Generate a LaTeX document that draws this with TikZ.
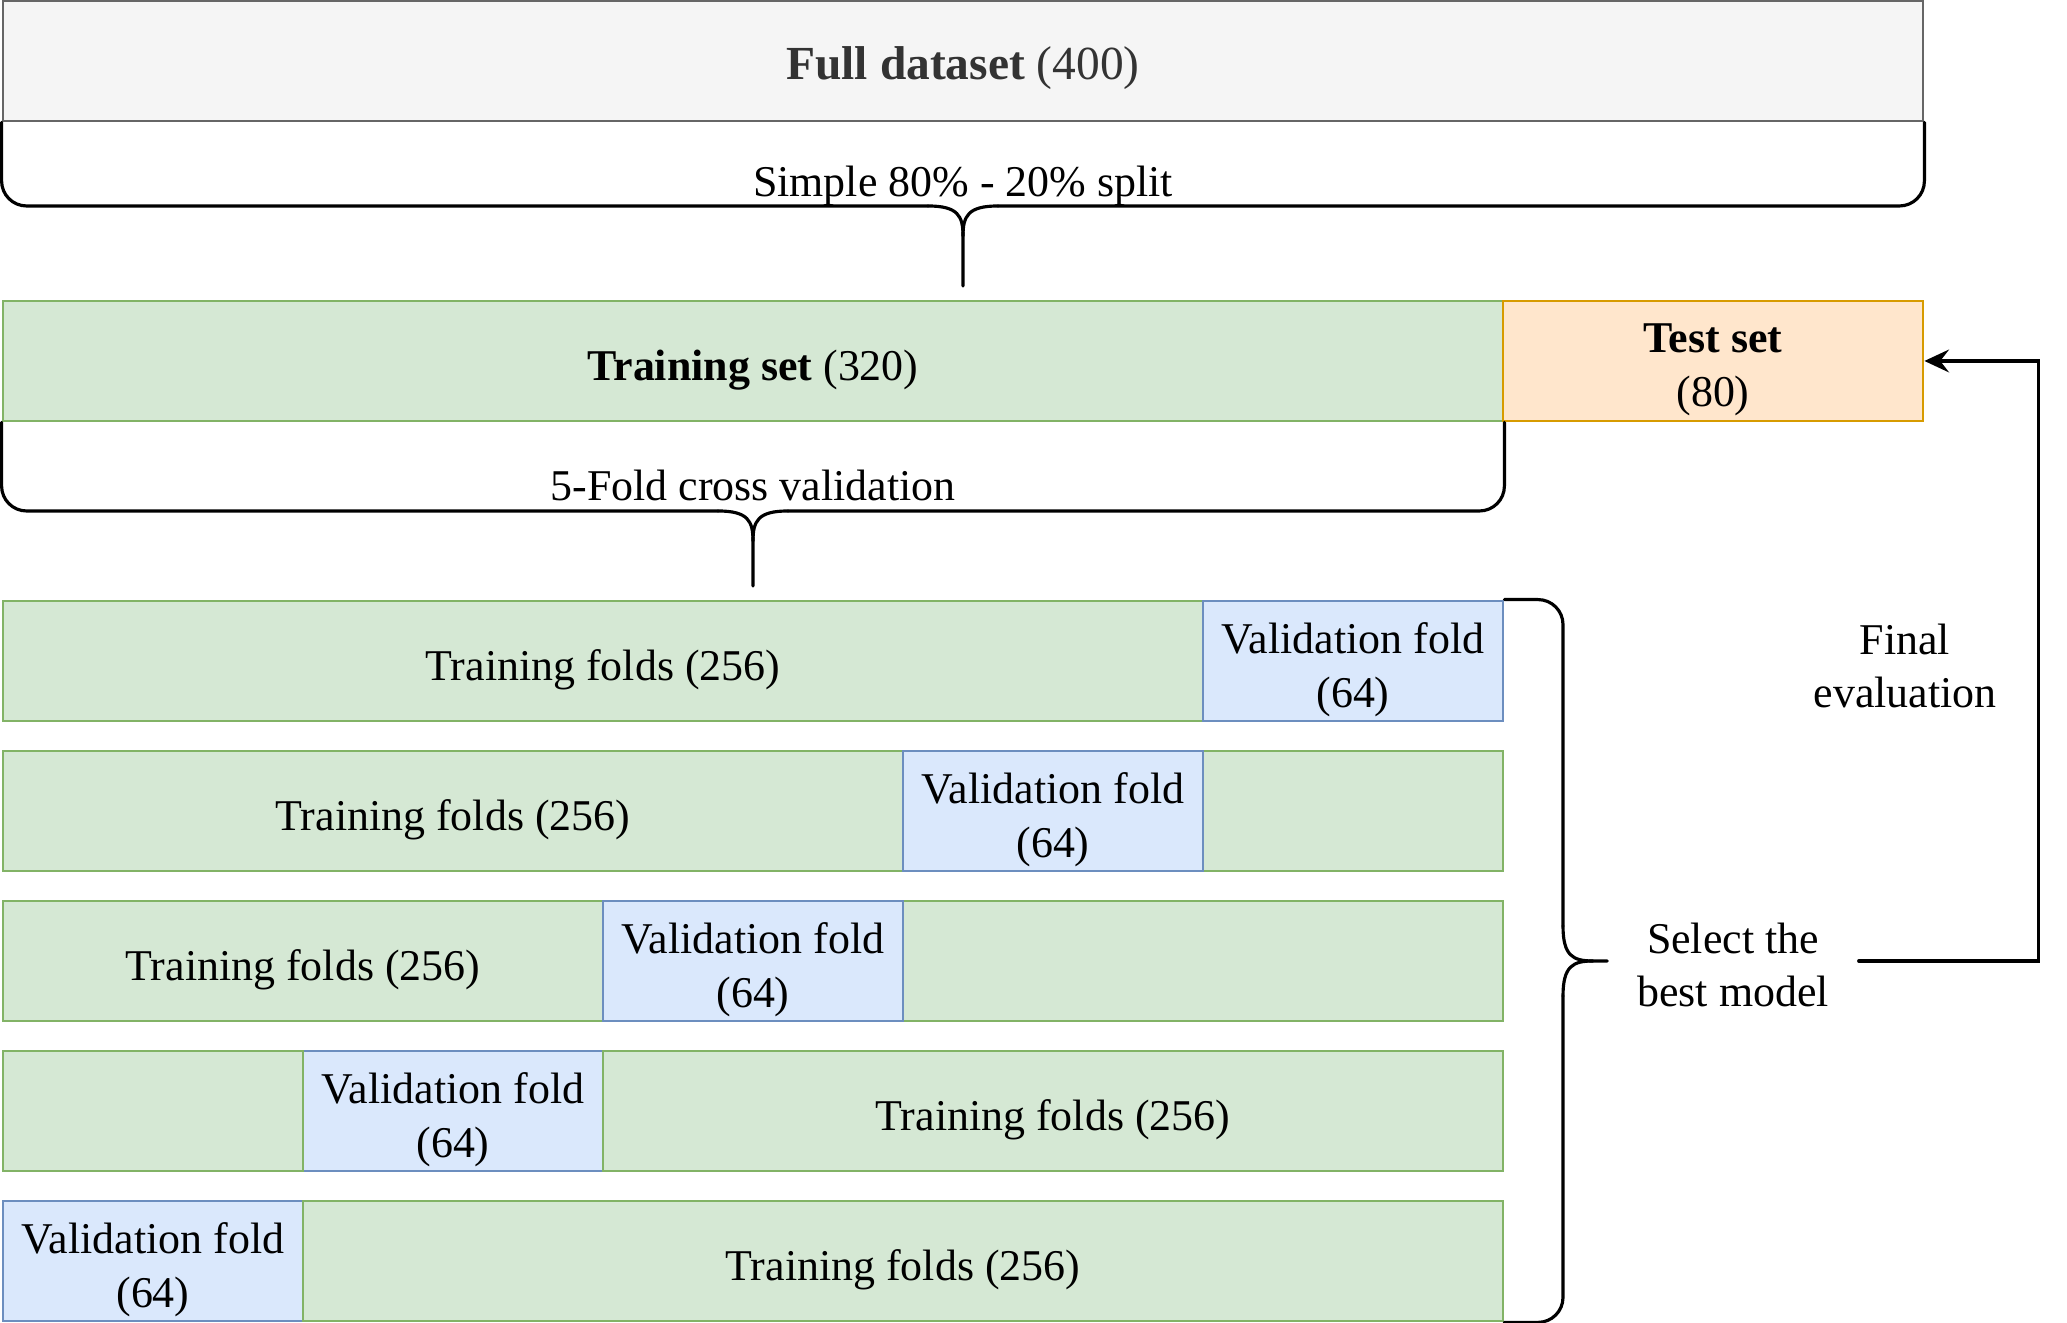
\documentclass[tikz,border=0pt]{standalone}
\usepackage{fontspec}
\setmainfont{Liberation Serif}
\usetikzlibrary{arrows.meta}

\definecolor{fullfill}{HTML}{F5F5F5}
\definecolor{fullline}{HTML}{666666}
\definecolor{fulltext}{HTML}{333333}
\definecolor{trainfill}{HTML}{D5E8D4}
\definecolor{trainline}{HTML}{82B366}
\definecolor{testfill}{HTML}{FFE6CC}
\definecolor{testline}{HTML}{D79B00}
\definecolor{valfill}{HTML}{DAE8FC}
\definecolor{valline}{HTML}{6C8EBF}

\begin{document}
\begin{tikzpicture}[>={Stealth[length=7pt,width=6.5pt,inset=2.5pt]},
    font=\fontsize{12.5}{15.3}\selectfont,
    every node/.style={align=center, inner sep=0pt},
    setbox/.style={rectangle, draw, line width=0.8pt, minimum height=1.2cm},
    trainbox/.style={setbox, draw=trainline, fill=trainfill},
    valbox/.style={setbox, draw=valline, fill=valfill, minimum width=3cm},
    bracket/.style={line width=0.9pt, line cap=round}]

    \useasboundingbox (-0.03,-0.02) rectangle (20.64,13.21);

    \node[setbox,
          draw = fullline,
          fill = fullfill,
          minimum width = 19.2cm
          ] (full) at (9.6,12.6) {};
    \node[text = fulltext,
          font = \fontsize{13.5}{16}\selectfont
          ] (fulllbl) at ([yshift=-0.07cm]full.center) {\textbf{Full dataset} (400)};

    \node[trainbox,
          minimum width = 15cm
          ] (train) at (7.5,9.6) {};
    \node[] (trainlbl) at ([yshift=-0.09cm]train.center) {\textbf{Training set} (320)};

    \node[setbox,
          draw = testline,
          fill = testfill,
          minimum width = 4.2cm
          ] (test) at (17.1,9.6) {};
    \node[] (testlbl) at ([yshift=-0.09cm]test.center) {\textbf{Test set}\\(80)};

    % fold 1
    \node[trainbox, minimum width = 12cm] (f1t) at (6,6.6) {};
    \node[valbox] (f1v) at (13.5,6.6) {};
    \node[] (f1tlbl) at ([yshift=-0.09cm]f1t.center) {Training folds (256)};
    \node[] (f1vlbl) at ([yshift=-0.09cm]f1v.center) {Validation fold\\(64)};

    % fold 2
    \node[trainbox, minimum width = 9cm] (f2t) at (4.5,5.1) {};
    \node[trainbox, minimum width = 3cm] (f2r) at (13.5,5.1) {};
    \node[valbox] (f2v) at (10.5,5.1) {};
    \node[] (f2tlbl) at ([yshift=-0.09cm]f2t.center) {Training folds (256)};
    \node[] (f2vlbl) at ([yshift=-0.09cm]f2v.center) {Validation fold\\(64)};

    % fold 3
    \node[trainbox, minimum width = 6cm] (f3t) at (3,3.6) {};
    \node[trainbox, minimum width = 6cm] (f3r) at (12,3.6) {};
    \node[valbox] (f3v) at (7.5,3.6) {};
    \node[] (f3tlbl) at ([yshift=-0.09cm]f3t.center) {Training folds (256)};
    \node[] (f3vlbl) at ([yshift=-0.09cm]f3v.center) {Validation fold\\(64)};

    % fold 4
    \node[valbox] (f4v) at (4.5,2.1) {};
    \node[trainbox, minimum width = 3cm] (f4l) at (1.5,2.1) {};
    \node[trainbox, minimum width = 9cm] (f4t) at (10.5,2.1) {};
    \node[] (f4tlbl) at ([yshift=-0.09cm]f4t.center) {Training folds (256)};
    \node[] (f4vlbl) at ([yshift=-0.09cm]f4v.center) {Validation fold\\(64)};

    % fold 5
    \node[valbox] (f5v) at (1.5,0.6) {};
    \node[trainbox, minimum width = 12cm] (f5t) at (9,0.6) {};
    \node[] (f5tlbl) at ([yshift=-0.09cm]f5t.center) {Training folds (256)};
    \node[] (f5vlbl) at ([yshift=-0.09cm]f5v.center) {Validation fold\\(64)};

    \node[] (splitlbl) at (9.6,11.35) {Simple 80\% - 20\% split};
    \node[] (cvlbl) at (7.5,8.36) {5-Fold cross validation};
    \node[minimum width = 2.5cm] (sel) at (17.3,3.56) {Select the\\best model};
    \node[] (final) at (19.02,6.55) {Final\\evaluation};

    %split bracket
    \coordinate (s1) at (9.6,11.15);
    \coordinate (s1end) at (9.6,10.35);
    \draw[bracket, rounded corners=0.25cm] (full.south west) |- ([xshift=-0.35cm]s1);
    \draw[bracket, rounded corners=0.25cm] ([xshift=0.35cm]s1) -| (full.south east);
    \draw[bracket] ([xshift=-0.35cm]s1) .. controls ([xshift=-0.05cm]s1) and ([yshift=-0.1cm]s1) .. ([yshift=-0.3cm]s1) -- (s1end);
    \draw[bracket] ([xshift=0.35cm]s1) .. controls ([xshift=0.05cm]s1) and ([yshift=-0.1cm]s1) .. ([yshift=-0.3cm]s1);

    %cross validation bracket
    \coordinate (s2) at (7.5,8.1);
    \coordinate (s2end) at (7.5,7.35);
    \draw[bracket, rounded corners=0.25cm] (train.south west) |- ([xshift=-0.35cm]s2);
    \draw[bracket, rounded corners=0.25cm] ([xshift=0.35cm]s2) -| (train.south east);
    \draw[bracket] ([xshift=-0.35cm]s2) .. controls ([xshift=-0.05cm]s2) and ([yshift=-0.1cm]s2) .. ([yshift=-0.3cm]s2) -- (s2end);
    \draw[bracket] ([xshift=0.35cm]s2) .. controls ([xshift=0.05cm]s2) and ([yshift=-0.1cm]s2) .. ([yshift=-0.3cm]s2);

    %model selection bracket
    \coordinate (s3) at (15.6,3.6);
    \draw[bracket, rounded corners=0.25cm] (f1v.north east) -| ([yshift=0.35cm]s3);
    \draw[bracket, rounded corners=0.25cm] ([yshift=-0.35cm]s3) |- (f5t.south east);
    \draw[bracket] ([yshift=0.35cm]s3) .. controls ([yshift=0.05cm]s3) and ([xshift=0.1cm]s3) .. ([xshift=0.3cm]s3) -- (sel.west |- s3);
    \draw[bracket] ([yshift=-0.35cm]s3) .. controls ([yshift=-0.05cm]s3) and ([xshift=0.1cm]s3) .. ([xshift=0.3cm]s3);

    %final evaluation path
    \draw[bracket, ->] (sel.east |- s3) -- ++(1.8,0) |- (test.east);

\end{tikzpicture}
\end{document}
